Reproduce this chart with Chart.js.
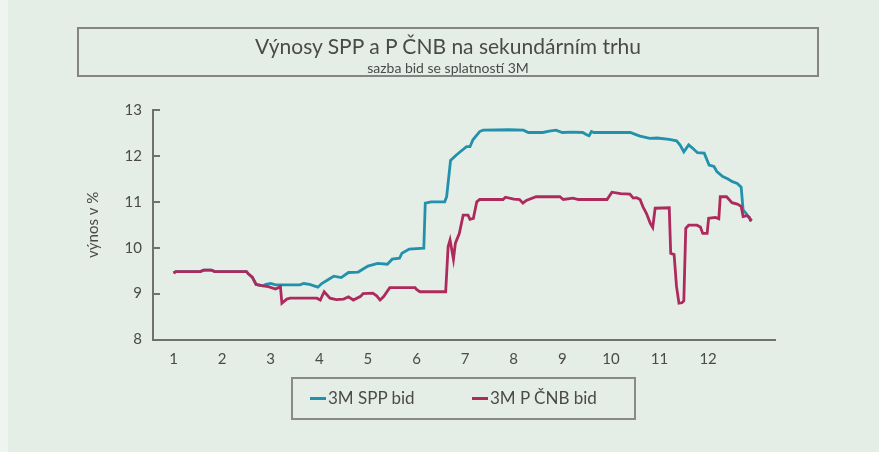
<!DOCTYPE html>
<html lang="cs">
<head>
<meta charset="utf-8">
<script src="https://cdn.jsdelivr.net/npm/chart.js@4.4.1/dist/chart.umd.min.js"></script>
<style>
  html, body { margin: 0; padding: 0; }
  body { width: 879px; height: 452px; background: #e4eee7; position: relative; overflow: hidden; font-family: Lato, 'Open Sans', sans-serif; color: #4a4a4a; }
  .okraj { position: absolute; left: 0; top: 0; width: 8px; height: 452px; background: #eef4ef; }
  canvas { position: absolute; left: 0; top: 0; }
  .titulek { position: absolute; left: 77px; top: 27px; width: 738px; height: 46px; border: 2px solid #858585; text-align: center; }
  .titulek h1 { margin: 5px 0 0; font-size: 21px; font-weight: 400; line-height: 24px; }
  .titulek h2 { margin: 1px 0 0; font-size: 14px; font-weight: 400; line-height: 17px; }
  .legenda { position: absolute; left: 291px; top: 377px; width: 341px; height: 39px; border: 2px solid #8a8a8a; }
  .legenda span { position: absolute; top: 9px; font-size: 17px; line-height: 20px; white-space: nowrap; }
  .legenda i { display: inline-block; width: 16px; height: 3px; vertical-align: middle; margin-right: 2px; position: relative; top: -1px; }
</style>
</head>
<body>
<div class="okraj"></div>
<canvas id="graf" width="879" height="452"></canvas>
<div class="titulek">
  <h1>Výnosy SPP a P ČNB na sekundárním trhu</h1>
  <h2>sazba bid se splatností 3M</h2>
</div>
<div class="legenda" id="legenda"></div>
<script>
// měsíce na ose x a hodnoty výnosů v %
const mesice = [1, 2, 3, 4, 5, 6, 7, 8, 9, 10, 11, 12];
const osaY = [8, 9, 10, 11, 12, 13];

const sppX = [1.0, 1.05, 1.55, 1.62, 1.78, 1.85, 2.5, 2.55, 2.62, 2.7, 2.84,
  2.9, 3.0, 3.1, 3.6, 3.68, 3.8, 3.97, 4.05, 4.22, 4.3, 4.45, 4.6, 4.8, 5.0, 5.2, 5.4, 5.5, 5.65, 5.7, 5.85, 6.15,
  6.18, 6.3, 6.58, 6.62, 6.7, 6.82, 6.9, 7.03, 7.1, 7.16, 7.3, 7.37, 7.9, 8.2, 8.3, 8.6, 8.73, 8.87, 9.0, 9.2,
  9.42, 9.5, 9.55, 9.6, 9.65, 10.4, 10.5, 10.6, 10.8, 10.95, 11.2, 11.35, 11.42, 11.5, 11.6, 11.7, 11.78, 11.92,
  12.02, 12.12, 12.18, 12.3, 12.4, 12.5, 12.6, 12.68, 12.72, 12.78, 12.85, 12.9];
const sppY = [9.45, 9.48, 9.48, 9.51, 9.51, 9.48, 9.48, 9.42, 9.36, 9.2, 9.17,
  9.2, 9.22, 9.19, 9.19, 9.22, 9.2, 9.14, 9.22, 9.33, 9.38, 9.35, 9.46, 9.47, 9.6, 9.66, 9.64, 9.75, 9.77, 9.88, 9.97, 9.99,
  10.97, 11.0, 11.0, 11.11, 11.9, 12.02, 12.09, 12.2, 12.2, 12.35, 12.53, 12.56, 12.57, 12.56, 12.51, 12.51, 12.54, 12.56, 12.51, 12.52,
  12.51, 12.46, 12.44, 12.53, 12.51, 12.51, 12.47, 12.43, 12.38, 12.39, 12.36, 12.33, 12.24, 12.09, 12.24, 12.15, 12.07, 12.06,
  11.8, 11.77, 11.66, 11.55, 11.5, 11.44, 11.4, 11.32, 10.82, 10.75, 10.64, 10.59];

const cnbX = [1.0, 1.05, 1.55, 1.62, 1.78, 1.85, 2.5, 2.55, 2.62, 2.7, 2.84,
  2.95, 3.1, 3.2, 3.23, 3.33, 3.4, 3.95, 4.02, 4.1, 4.22, 4.35, 4.5, 4.6, 4.7, 4.85, 4.9, 5.1, 5.18, 5.25, 5.32, 5.45,
  5.97, 6.0, 6.07, 6.6, 6.65, 6.69, 6.76, 6.8, 6.88, 6.96, 7.06, 7.1, 7.17, 7.24, 7.3, 7.78, 7.83, 8.0, 8.12, 8.19,
  8.26, 8.46, 8.95, 9.02, 9.22, 9.33, 9.92, 10.02, 10.2, 10.39, 10.46, 10.53, 10.6, 10.66, 10.73, 10.81, 10.86, 10.91,
  11.2, 11.23, 11.3, 11.35, 11.4, 11.46, 11.5, 11.54, 11.6, 11.77, 11.84, 11.89, 11.98, 12.01, 12.15, 12.22, 12.25,
  12.38, 12.49, 12.6, 12.68, 12.72, 12.8, 12.85, 12.88];
const cnbY = [9.45, 9.48, 9.48, 9.51, 9.51, 9.48, 9.48, 9.42, 9.36, 9.2, 9.17,
  9.15, 9.1, 9.15, 8.79, 8.88, 8.9, 8.9, 8.86, 9.04, 8.9, 8.87, 8.88, 8.93, 8.86, 8.94, 9.0, 9.01, 8.95, 8.86, 8.93, 9.13,
  9.13, 9.09, 9.04, 9.04, 10.02, 10.17, 9.75, 10.1, 10.31, 10.71, 10.71, 10.62, 10.64, 11.0, 11.05, 11.05, 11.1, 11.06, 11.05, 10.97,
  11.03, 11.11, 11.11, 11.05, 11.08, 11.05, 11.05, 11.21, 11.18, 11.17, 11.08, 11.09, 11.05, 10.89, 10.75, 10.53, 10.44, 10.86,
  10.87, 9.88, 9.85, 9.15, 8.79, 8.8, 8.84, 10.42, 10.49, 10.49, 10.45, 10.31, 10.31, 10.64, 10.66, 10.63, 11.11,
  11.11, 10.98, 10.95, 10.9, 10.68, 10.7, 10.66, 10.57];

const SERIE = [
  { label: '3M SPP bid', xs: sppX, ys: sppY, barva: '#2291ab' },
  { label: '3M P ČNB bid', xs: cnbX, ys: cnbY, barva: '#ae2a5d' },
];

const sedaOsa = '#707070';
const pismo = { family: "Lato, 'Open Sans', sans-serif", size: 15 };

// krátké čárky osy y dovnitř grafu
const caryDovnitr = {
  id: 'caryDovnitr',
  afterDraw(chart) {
    const { ctx, chartArea, scales: { y } } = chart;
    ctx.save();
    ctx.strokeStyle = sedaOsa;
    ctx.lineWidth = 2;
    osaY.forEach(v => {
      const py = Math.round(y.getPixelForValue(v));
      ctx.beginPath();
      ctx.moveTo(chartArea.left, py);
      ctx.lineTo(chartArea.left + 7, py);
      ctx.stroke();
    });
    ctx.restore();
  },
};

new Chart(document.getElementById('graf').getContext('2d'), {
  type: 'line',
  data: {
    // P ČNB první, aby ležela nad SPP ve společném úseku
    datasets: SERIE.slice().reverse().map(s => ({
      label: s.label,
      data: s.xs.map((x, i) => ({ x, y: s.ys[i] })),
      borderColor: s.barva,
      borderWidth: 2.8,
      pointRadius: 0,
      tension: 0,
      fill: false,
    })),
  },
  options: {
    responsive: false,
    animation: false,
    devicePixelRatio: 1,
    layout: { padding: { left: 80, top: 110, right: 104, bottom: 0 } },
    plugins: { legend: { display: false }, title: { display: false }, tooltip: { enabled: false } },
    scales: {
      x: {
        type: 'linear', min: 0.578, max: 13.376,
        afterBuildTicks: s => { s.ticks = mesice.map(v => ({ value: v })); },
        afterFit: s => { s.height = 112.5; },
        grid: { display: false, drawTicks: false },
        border: { display: true, color: sedaOsa, width: 2 },
        ticks: { color: '#4a4a4a', font: pismo, padding: 11, maxRotation: 0, autoSkip: false },
      },
      y: {
        type: 'linear', min: 8, max: 13,
        afterBuildTicks: s => { s.ticks = osaY.map(v => ({ value: v })); },
        afterFit: s => { s.width = 73; },
        grid: { display: false, drawTicks: false },
        border: { display: true, color: sedaOsa, width: 2 },
        ticks: { color: '#4a4a4a', font: pismo, padding: 11 },
        title: { display: true, text: 'výnos v %', color: '#4a4a4a', font: { family: pismo.family, size: 15 }, padding: { top: 4 } },
      },
    },
  },
  plugins: [caryDovnitr],
});

// legenda v rámečku
const legenda = document.getElementById('legenda');
const poziceLegendy = [17, 179];
SERIE.forEach((s, i) => {
  const polozka = document.createElement('span');
  polozka.style.left = poziceLegendy[i] + 'px';
  polozka.innerHTML = `<i style="background:${s.barva}"></i>${s.label}`;
  legenda.appendChild(polozka);
});
</script>
</body>
</html>
